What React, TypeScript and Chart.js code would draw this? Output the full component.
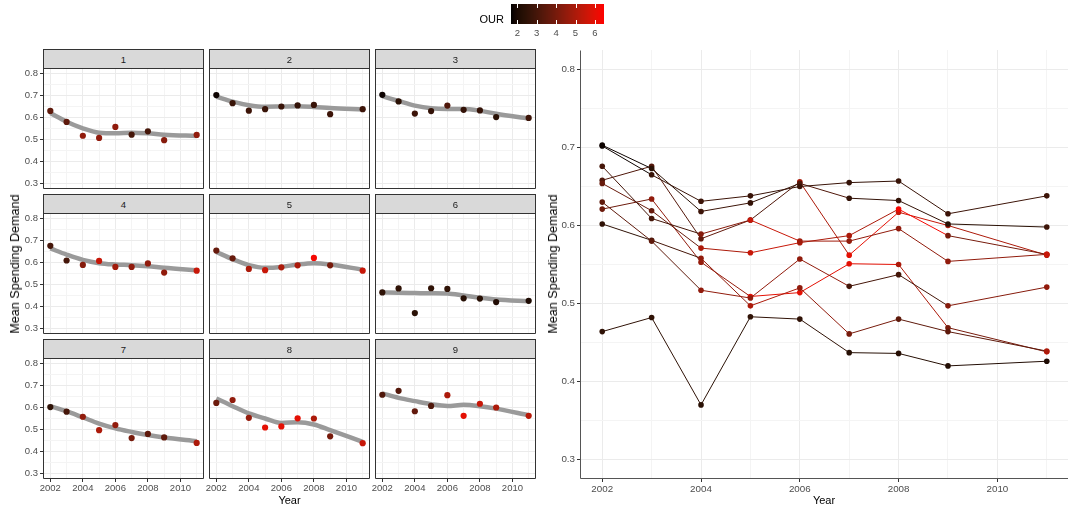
import React, { useEffect, useRef } from "react";
import { Chart, registerables } from "chart.js";
Chart.register(...registerables);

// ---------------- data ----------------
const years = [2002, 2003, 2004, 2005, 2006, 2007, 2008, 2009, 2011];
const regionLabels = ["1", "2", "3", "4", "5", "6", "7", "8", "9"];

const demandR1 = [0.630, 0.580, 0.517, 0.507, 0.557, 0.522, 0.537, 0.497, 0.521];
const demandR2 = [0.702, 0.665, 0.631, 0.638, 0.650, 0.655, 0.657, 0.615, 0.638];
const demandR3 = [0.703, 0.673, 0.618, 0.629, 0.654, 0.635, 0.632, 0.602, 0.598];
const demandR4 = [0.676, 0.609, 0.589, 0.607, 0.580, 0.580, 0.596, 0.554, 0.563];
const demandR5 = [0.654, 0.619, 0.571, 0.565, 0.578, 0.587, 0.621, 0.587, 0.563];
const demandR6 = [0.464, 0.482, 0.370, 0.483, 0.480, 0.437, 0.436, 0.420, 0.426];
const demandR7 = [0.602, 0.581, 0.558, 0.497, 0.520, 0.461, 0.480, 0.464, 0.439];
const demandR8 = [0.621, 0.634, 0.553, 0.509, 0.514, 0.551, 0.550, 0.469, 0.438];
const demandR9 = [0.658, 0.676, 0.583, 0.607, 0.656, 0.562, 0.617, 0.600, 0.562];

const ourR1 = [3.5, 3.5, 4.5, 4.5, 4.5, 3.0, 3.0, 4.3, 4.5];
const ourR2 = [1.8, 2.7, 2.8, 2.7, 2.7, 2.6, 2.7, 2.8, 2.8];
const ourR3 = [1.8, 2.4, 2.8, 2.6, 3.2, 2.6, 2.6, 2.4, 2.8];
const ourR4 = [3.0, 3.0, 4.3, 5.5, 4.8, 4.5, 4.5, 4.5, 5.5];
const ourR5 = [3.7, 3.7, 5.0, 5.5, 5.0, 5.0, 6.3, 4.0, 5.5];
const ourR6 = [2.5, 2.5, 2.4, 2.5, 2.5, 2.3, 2.3, 2.2, 2.1];
const ourR7 = [2.5, 3.0, 4.5, 5.0, 4.5, 4.0, 3.5, 3.5, 5.0];
const ourR8 = [3.8, 4.5, 4.6, 6.0, 6.0, 6.0, 5.0, 4.0, 5.5];
const ourR9 = [3.2, 3.3, 3.6, 3.2, 5.0, 6.0, 5.5, 5.0, 5.2];

const smoothR1 = [0.620, 0.581, 0.551, 0.531, 0.528, 0.531, 0.528, 0.522, 0.516];
const smoothR2 = [0.695, 0.672, 0.656, 0.649, 0.650, 0.651, 0.648, 0.643, 0.636];
const smoothR3 = [0.697, 0.675, 0.654, 0.642, 0.639, 0.639, 0.631, 0.617, 0.596];
const smoothR4 = [0.664, 0.636, 0.612, 0.597, 0.591, 0.588, 0.583, 0.576, 0.565];
const smoothR5 = [0.648, 0.615, 0.588, 0.576, 0.580, 0.591, 0.597, 0.591, 0.567];
const smoothR6 = [0.464, 0.462, 0.461, 0.460, 0.459, 0.450, 0.440, 0.432, 0.424];
const smoothR7 = [0.606, 0.583, 0.555, 0.527, 0.505, 0.489, 0.475, 0.464, 0.447];
const smoothR8 = [0.641, 0.606, 0.573, 0.550, 0.530, 0.533, 0.523, 0.497, 0.444];
const smoothR9 = [0.664, 0.644, 0.629, 0.615, 0.607, 0.612, 0.606, 0.595, 0.565];

const yTickLabels = [0.3, 0.4, 0.5, 0.6, 0.7, 0.8];
const xTickLabels = [2002, 2004, 2006, 2008, 2010];
const ourTickLabels = [2, 3, 4, 5, 6];

const demand = [demandR1, demandR2, demandR3, demandR4, demandR5, demandR6, demandR7, demandR8, demandR9];
const our = [ourR1, ourR2, ourR3, ourR4, ourR5, ourR6, ourR7, ourR8, ourR9];
const smooth = [smoothR1, smoothR2, smoothR3, smoothR4, smoothR5, smoothR6, smoothR7, smoothR8, smoothR9];

// ---------------- style / layout ----------------
const FONT = "'Liberation Sans', Arial, Helvetica, sans-serif";
const OUR_MIN = 1.67;
const OUR_MAX = 6.47;
const Y_MIN = 0.275;
const Y_MAX = 0.825;
const X_MIN = 2001.55;
const X_MAX = 2011.45;

const COL_LEFT = [43, 209, 375];
const PANEL_W = 161;
const STRIP_TOP = [49, 194, 339];
const STRIP_H = 19;
const PANEL_H = 121;

const RIGHT = { left: 580, top: 50, width: 489, height: 429 };

function labToRgb(L: number, a: number, b: number): [number, number, number] {
  const fy = (L + 16) / 116;
  const fx = fy + a / 500;
  const fz = fy - b / 200;
  const finv = (t: number) => (t * t * t > 0.008856 ? t * t * t : (t - 16 / 116) / 7.787);
  const X = 0.95047 * finv(fx);
  const Y = 1.0 * finv(fy);
  const Z = 1.08883 * finv(fz);
  const r = 3.2406 * X - 1.5372 * Y - 0.4986 * Z;
  const g = -0.9689 * X + 1.8758 * Y + 0.0415 * Z;
  const bb = 0.0557 * X - 0.204 * Y + 1.057 * Z;
  const gam = (c: number) => {
    const v = c <= 0.0031308 ? 12.92 * c : 1.055 * Math.pow(c, 1 / 2.4) - 0.055;
    return Math.round(Math.min(1, Math.max(0, v)) * 255);
  };
  return [gam(r), gam(g), gam(bb)];
}

function ourColor(v: number): string {
  const t = Math.min(1, Math.max(0, (v - OUR_MIN) / (OUR_MAX - OUR_MIN)));
  const [r, g, b] = labToRgb(53.24 * t, 80.09 * t, 67.2 * t);
  return `rgb(${r},${g},${b})`;
}

const isMajorY = (v: number) => yTickLabels.some((m) => Math.abs(m - v) < 1e-6);
const isMajorX = (v: number) => xTickLabels.includes(Math.round(v));

function yGridValues(): number[] {
  const out: number[] = [];
  for (let i = 0; i < yTickLabels.length; i++) {
    out.push(yTickLabels[i]);
    if (i < yTickLabels.length - 1) out.push((yTickLabels[i] + yTickLabels[i + 1]) / 2);
  }
  return out.sort((a, b) => a - b);
}
function xGridValues(): number[] {
  const out: number[] = [];
  for (let v = Math.ceil(X_MIN); v <= Math.floor(X_MAX); v++) out.push(v);
  return out;
}

function makeScales(o: { showX: boolean; showY: boolean; ML: number; MB: number; size: number }) {
  const tickFont = { family: FONT, size: o.size };
  return {
    x: {
      type: "linear",
      min: X_MIN,
      max: X_MAX,
      afterBuildTicks: (s: any) => {
        s.ticks = xGridValues().map((v) => ({ value: v }));
      },
      afterFit: (s: any) => {
        s.height = o.MB;
      },
      border: { display: false },
      grid: {
        color: (c: any) => (c.tick && isMajorX(c.tick.value) ? "#ebebeb" : "#f4f4f4"),
        lineWidth: 1,
        drawTicks: o.showX,
        tickLength: 3,
        tickColor: (c: any) => (c.tick && isMajorX(c.tick.value) ? "#333333" : "rgba(0,0,0,0)"),
      },
      ticks: {
        display: o.showX,
        autoSkip: false,
        maxRotation: 0,
        minRotation: 0,
        padding: 1,
        color: "#4d4d4d",
        font: tickFont,
        callback: (v: any) => (isMajorX(Number(v)) ? String(Math.round(Number(v))) : ""),
      },
    },
    y: {
      type: "linear",
      min: Y_MIN,
      max: Y_MAX,
      afterBuildTicks: (s: any) => {
        s.ticks = yGridValues().map((v) => ({ value: v }));
      },
      afterFit: (s: any) => {
        s.width = o.ML;
      },
      border: { display: false },
      grid: {
        color: (c: any) => (c.tick && isMajorY(c.tick.value) ? "#ebebeb" : "#f4f4f4"),
        lineWidth: 1,
        drawTicks: o.showY,
        tickLength: 3,
        tickColor: (c: any) => (c.tick && isMajorY(c.tick.value) ? "#333333" : "rgba(0,0,0,0)"),
      },
      ticks: {
        display: o.showY,
        autoSkip: false,
        padding: 2,
        color: "#4d4d4d",
        font: tickFont,
        callback: (v: any) => (isMajorY(Number(v)) ? Number(v).toFixed(1) : ""),
      },
    },
  };
}

function borderPlugin(sides: { top: boolean; right: boolean; bottom: boolean; left: boolean }, color: string) {
  return {
    id: "panelBorder",
    afterDraw(chart: any) {
      const { left, top, right, bottom } = chart.chartArea;
      const ctx = chart.ctx;
      ctx.save();
      ctx.strokeStyle = color;
      ctx.lineWidth = 1;
      ctx.beginPath();
      const l = Math.round(left) + 0.5, t = Math.round(top) + 0.5, r = Math.round(right) - 0.5, b = Math.round(bottom) - 0.5;
      if (sides.top) { ctx.moveTo(l, t); ctx.lineTo(r, t); }
      if (sides.right) { ctx.moveTo(r, t); ctx.lineTo(r, b); }
      if (sides.bottom) { ctx.moveTo(l, b); ctx.lineTo(r, b); }
      if (sides.left) { ctx.moveTo(l, t); ctx.lineTo(l, b); }
      ctx.stroke();
      ctx.restore();
    },
  };
}

type Rect = { left: number; top: number; width: number; height: number };

function ChartBox({ rect, build }: { rect: Rect; build: () => any }) {
  const ref = useRef<HTMLCanvasElement>(null);
  useEffect(() => {
    const chart = new Chart(ref.current as HTMLCanvasElement, build());
    return () => chart.destroy();
  }, []);
  return (
    <canvas
      ref={ref}
      width={rect.width}
      height={rect.height}
      style={{ position: "absolute", left: rect.left, top: rect.top, width: rect.width, height: rect.height }}
    />
  );
}

const baseOptions = {
  responsive: false,
  maintainAspectRatio: false,
  devicePixelRatio: 1,
  animation: false,
  events: [],
  plugins: { legend: { display: false }, tooltip: { enabled: false }, title: { display: false } },
};

function facetSpec(i: number): { rect: Rect; build: () => any } {
  const col = i % 3;
  const row = Math.floor(i / 3);
  const showY = col === 0;
  const showX = row === 2;
  const ML = showY ? 43 : 10;
  const MB = showX ? 22 : 10;
  const MT = 10;
  const MR = 10;
  const panelTop = STRIP_TOP[row] + STRIP_H;
  const rect = {
    left: COL_LEFT[col] - ML,
    top: panelTop - MT,
    width: PANEL_W + ML + MR,
    height: PANEL_H + MT + MB,
  };
  const build = () => ({
    type: "scatter",
    data: {
      datasets: [
        {
          data: years.map((x, j) => ({ x, y: demand[i][j] })),
          showLine: false,
          pointRadius: 3.1,
          pointBorderWidth: 0,
          pointBackgroundColor: our[i].map(ourColor),
          order: 0,
        },
        {
          data: years.map((x, j) => ({ x, y: smooth[i][j] })),
          showLine: true,
          borderColor: "#9a9a9a",
          borderWidth: 4.5,
          pointRadius: 0,
          cubicInterpolationMode: "monotone",
          fill: false,
          order: 1,
        },
      ],
    },
    options: {
      ...baseOptions,
      layout: { padding: { top: MT, right: MR, bottom: 0, left: 0 } },
      scales: makeScales({ showX, showY, ML, MB, size: 9.5 }),
    },
    plugins: [borderPlugin({ top: true, right: true, bottom: true, left: true }, "#333333")],
  });
  return { rect, build };
}

function rightSpec(): { rect: Rect; build: () => any } {
  const ML = 40, MB = 22, MT = 10, MR = 12;
  const rect = {
    left: RIGHT.left - ML,
    top: RIGHT.top - MT,
    width: RIGHT.width + ML + MR,
    height: RIGHT.height + MT + MB,
  };
  const build = () => ({
    type: "scatter",
    data: {
      datasets: regionLabels.map((lab, i) => ({
        label: lab,
        data: years.map((x, j) => ({ x, y: demand[i][j] })),
        showLine: true,
        borderWidth: 1,
        borderColor: ourColor(our[i][0]),
        segment: { borderColor: (ctx: any) => ourColor(our[i][ctx.p0DataIndex]) },
        pointRadius: 2.8,
        pointBorderWidth: 0,
        pointBackgroundColor: our[i].map(ourColor),
        tension: 0,
      })),
    },
    options: {
      ...baseOptions,
      layout: { padding: { top: MT, right: MR, bottom: 0, left: 0 } },
      scales: makeScales({ showX: true, showY: true, ML, MB, size: 9.8 }),
    },
    plugins: [borderPlugin({ top: false, right: false, bottom: true, left: true }, "#555555")],
  });
  return { rect, build };
}

function ColorBar() {
  const ref = useRef<HTMLCanvasElement>(null);
  const W = 93, H = 20;
  useEffect(() => {
    const c = ref.current as HTMLCanvasElement;
    const ctx = c.getContext("2d") as CanvasRenderingContext2D;
    for (let px = 0; px < W; px++) {
      const v = OUR_MIN + ((px + 0.5) / W) * (OUR_MAX - OUR_MIN);
      ctx.fillStyle = ourColor(v);
      ctx.fillRect(px, 0, 1, H);
    }
    ctx.strokeStyle = "#ffffff";
    ctx.lineWidth = 1;
    ourTickLabels.forEach((t) => {
      const x = Math.round(((t - OUR_MIN) / (OUR_MAX - OUR_MIN)) * W) + 0.5;
      ctx.beginPath();
      ctx.moveTo(x, 0);
      ctx.lineTo(x, 4);
      ctx.moveTo(x, H - 4);
      ctx.lineTo(x, H);
      ctx.stroke();
    });
  }, []);
  return <canvas ref={ref} width={W} height={H} style={{ position: "absolute", left: 511, top: 4, width: W, height: H }} />;
}

const textBase: React.CSSProperties = { position: "absolute", fontFamily: FONT, whiteSpace: "nowrap" };

export default function App() {
  const facets = regionLabels.map((_, i) => facetSpec(i));
  const right = rightSpec();
  return (
    <div style={{ position: "fixed", left: 0, top: 0, width: 1068, height: 512, background: "#ffffff", overflow: "hidden" }}>
      {facets.map((f, i) => (
        <ChartBox key={"f" + i} rect={f.rect} build={f.build} />
      ))}
      <ChartBox rect={right.rect} build={right.build} />
      {regionLabels.map((lab, i) => {
        const col = i % 3;
        const row = Math.floor(i / 3);
        return (
          <div
            key={"s" + i}
            style={{
              position: "absolute",
              left: COL_LEFT[col],
              top: STRIP_TOP[row],
              width: PANEL_W,
              height: STRIP_H + 1,
              boxSizing: "border-box",
              background: "#d9d9d9",
              border: "1px solid #333333",
              fontFamily: FONT,
              fontSize: 9.5,
              color: "#1a1a1a",
              display: "flex",
              alignItems: "center",
              justifyContent: "center",
            }}
          >
            {lab}
          </div>
        );
      })}
      {/* axis titles */}
      <div style={{ ...textBase, left: 15, top: 264, fontSize: 12.6, color: "#000", transform: "translate(-50%, -50%) rotate(-90deg)" }}>
        Mean Spending Demand
      </div>
      <div style={{ ...textBase, left: 553, top: 264, fontSize: 12.6, color: "#000", transform: "translate(-50%, -50%) rotate(-90deg)" }}>
        Mean Spending Demand
      </div>
      <div style={{ ...textBase, left: 289.5, top: 500, fontSize: 11, color: "#000", transform: "translate(-50%, -50%)" }}>Year</div>
      <div style={{ ...textBase, left: 824, top: 500, fontSize: 11, color: "#000", transform: "translate(-50%, -50%)" }}>Year</div>
      {/* legend */}
      <div style={{ ...textBase, left: 504, top: 19, fontSize: 11, color: "#000", transform: "translate(-100%, -50%)" }}>OUR</div>
      <ColorBar />
      {ourTickLabels.map((t) => (
        <div
          key={"o" + t}
          style={{
            ...textBase,
            left: 511 + ((t - OUR_MIN) / (OUR_MAX - OUR_MIN)) * 93,
            top: 32,
            fontSize: 9.5,
            color: "#4d4d4d",
            transform: "translate(-50%, -50%)",
          }}
        >
          {t}
        </div>
      ))}
    </div>
  );
}
